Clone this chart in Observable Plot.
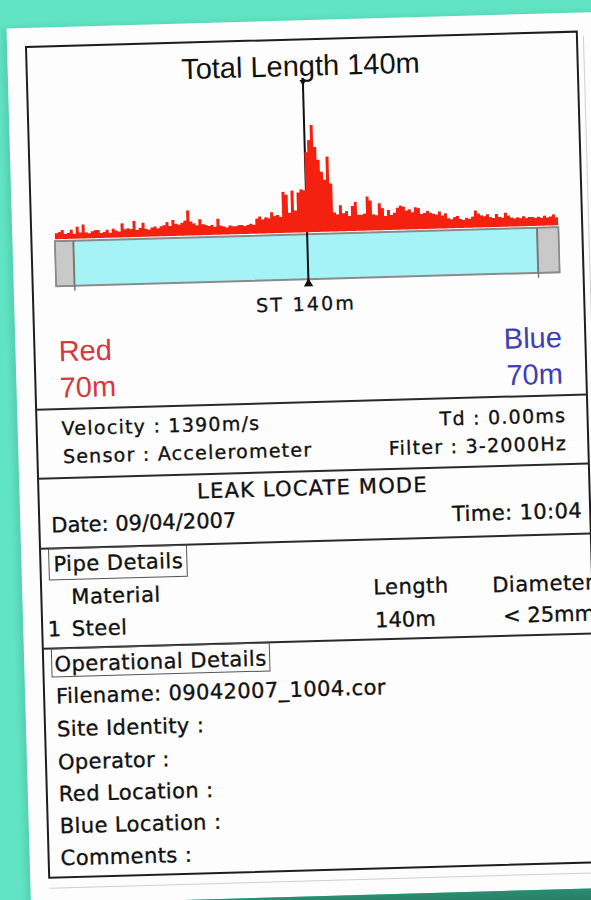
<!DOCTYPE html>
<html><head><meta charset="utf-8">
<script src="https://cdn.jsdelivr.net/npm/d3@7"></script>
<script src="https://cdn.jsdelivr.net/npm/@observablehq/plot@0.6"></script>
<style>
html,body{margin:0;padding:0;width:591px;height:900px;overflow:hidden;background:#60e4c4;}
#stage{position:absolute;left:26px;top:46.7px;width:551px;height:831px;transform:rotate(-1.6deg);transform-origin:0 0;}
#paper{position:absolute;left:-19px;top:-19px;width:720px;height:876px;background:#fdfdfd;box-shadow:-4px 0 6px rgba(0,0,0,0.10);}
#shadow{position:absolute;left:-19px;top:857px;width:720px;height:40px;background:linear-gradient(#2b8d70,#175a46);}
#frame{position:absolute;left:-1px;top:-1px;width:553px;height:833px;box-sizing:border-box;border:2px solid #1e1e1e;}
.hr{position:absolute;left:0;width:551px;height:0;border-top:2px solid #2a2a2a;}
.box{position:absolute;box-sizing:border-box;border:1.5px solid #555;}
.faint{position:absolute;background:#d0d0d0;}
.t{position:absolute;white-space:nowrap;line-height:1;color:#111;font-family:"DejaVu Sans";-webkit-text-stroke:0.35px #111;}
#chart{position:absolute;left:0;top:0;}
</style></head>
<body>
<div id="stage">
  <div id="paper"></div>
  <div id="shadow"></div>
  <div class="faint" style="left:557px;top:4px;width:1px;height:840px"></div>
  <div class="faint" style="left:0;top:841px;width:600px;height:1px"></div>
  <div id="frame"></div>
  <div id="chart"></div>
</div>
<script>
// ---- data ----
const totalLength = 140;            // m
const markerPos = 70;               // m (ST position)
const redDist = 70, blueDist = 70;  // m
const corr = [6,7,9,5,6,9,5,12,6,14,
 6,5,7,8,8,5,6,8,5,9,
 7,6,14,8,9,8,16,7,9,14,
 8,7,9,10,8,10,11,14,10,16,
 12,11,13,15,25,14,12,10,16,11,
 10,9,10,8,16,9,8,7,9,8,
 8,9,9,8,9,10,9,15,17,14,
 16,15,21,17,18,16,41,38,20,42,
 22,40,43,42,80,92,107,85,72,60,
 52,75,48,19,17,26,18,20,15,25,
 29,16,16,17,34,30,16,15,27,22,
 14,20,15,17,22,24,23,19,20,17,
 22,21,15,16,18,16,15,14,17,13,
 15,10,9,11,12,9,8,10,9,11,
 17,14,12,11,13,10,9,13,10,9,
 14,11,9,8,9,8,10,8,9,9,
 8,9,8,10,8,9,11,8];
const caps = [[0, 5], [134, 140]];
const readingsLeft = ["Velocity : 1390m/s", "Sensor : Accelerometer"];
const readingsRight = ["Td : 0.00ms", "Filter : 3-2000Hz"];
const modeText = "LEAK LOCATE MODE";
const dateText = "Date: 09/04/2007", timeText = "Time: 10:04";
const pipeHeader = ["Material", "Length", "Diameter"];
const pipeRow = ["1", "Steel", "140m", "< 25mm"];
const opFields = ["Filename: 09042007_1004.cor", "Site Identity :", "Operator :", "Red Location :", "Blue Location :", "Comments :"];

// ---- chart ----
const n = corr.length;
const series = corr.map((h, i) => ({x: i * totalLength / n, h}));
series.push({x: totalLength, h: corr[n - 1]});
const RED = "#f42010", CYAN = "#a6f3f7";
const capRects = caps.map(([a, b]) => ({a, b}));
const chart = Plot.plot({
  width: 551, height: 363,
  marginLeft: 23.6, marginRight: 24, marginTop: 83, marginBottom: 170,
  x: {domain: [0, totalLength], axis: null},
  y: {domain: [0, 110], axis: null},
  style: {background: "transparent", overflow: "visible"},
  marks: [
    Plot.rect([{a: 0, b: totalLength}], {x1: "a", x2: "b", y1: -2, y2: -47, fill: CYAN, stroke: "#8a8a8a", strokeWidth: 2}),
    Plot.rect(capRects, {x1: "a", x2: "b", y1: -3, y2: -46, fill: "#c9c9c9"}),
    Plot.rect(capRects, {x1: "a", x2: "b", y1: -2, y2: -47, fill: "none", stroke: "#8a8a8a", strokeWidth: 1.5}),
    Plot.ruleX([caps[0][1], caps[1][0]], {y1: -2, y2: -52, stroke: "#777", strokeWidth: 1.5}),
    Plot.ruleX([markerPos], {y1: 152, y2: -52, stroke: "#111", strokeWidth: 2}),
    Plot.areaY(series, {x: "x", y: "h", curve: "step-after", fill: RED}),
    Plot.dot([markerPos], {x: d => d, y: -51, symbol: "triangle", r: 3.5, fill: "#111"}),
    Plot.dot([markerPos], {x: d => d, y: 151, symbol: "triangle", rotate: 180, r: 2.5, fill: "#111"}),
    Plot.text([`Total Length ${totalLength}m`], {x: markerPos, frameAnchor: "top", dx: -2, dy: -47, lineAnchor: "bottom", fontSize: 29, fontFamily: "Liberation Sans", fill: "#111"}),
    Plot.text([`ST ${totalLength}m`], {x: markerPos, frameAnchor: "bottom", dx: -3, dy: 78, lineAnchor: "bottom", fontSize: 19, fontFamily: "DejaVu Sans", fill: "#111"}),
    Plot.text(["Red", `${redDist}m`], {x: 0, frameAnchor: "bottom", lineAnchor: "bottom", textAnchor: "start", fontSize: 29, fontFamily: "Liberation Sans", fill: "#d9363e"}),
    Plot.text(["Blue", `${blueDist}m`], {x: totalLength, frameAnchor: "bottom", lineAnchor: "bottom", textAnchor: "end", fontSize: 29, fontFamily: "Liberation Sans", fill: "#3d3db5"})
  ]
});
document.getElementById("chart").appendChild(chart);
// vertical offsets of the Red / Blue label lines (baseline below pipe)
d3.select(chart).selectAll("text").each(function() {
  const t = this.textContent;
  if (t === "Red" || t === "Blue") this.setAttribute("dy", 121.5);
  if (t === `${redDist}m` || t === `${blueDist}m`) this.setAttribute("dy", 158);
  if (t.startsWith("ST")) { this.style.letterSpacing = "2.2px"; this.style.stroke = "#111"; this.style.strokeWidth = "0.3px"; }
});

// ---- details ----
const stage = document.getElementById("stage");
function hr(v) { const d = document.createElement("div"); d.className = "hr"; d.style.top = (v - 1) + "px"; stage.appendChild(d); }
function box(u1, v1, u2, v2) { const d = document.createElement("div"); d.className = "box";
  Object.assign(d.style, {left: u1 + "px", top: v1 + "px", width: (u2 - u1) + "px", height: (v2 - v1) + "px"}); stage.appendChild(d); }
function put(txt, u, v, o = {}) {
  const fs = o.fs || 21, ls = o.ls || 0, a = o.anchor || "start";
  const d = document.createElement("div"); d.className = "t"; d.textContent = txt;
  d.style.fontSize = fs + "px"; d.style.letterSpacing = ls + "px";
  d.style.top = (v - 0.846 * fs) + "px";
  if (a === "start") d.style.left = u + "px";
  else if (a === "end") d.style.right = (551 - u - ls) + "px";
  else { d.style.left = u + "px"; d.style.transform = "translateX(-50%)"; }
  stage.appendChild(d);
}
hr(363); hr(432); hr(502); hr(602);
box(8, 502, 147, 534);
box(8, 602, 227, 631);
put(readingsLeft[0], 25, 389, {fs: 19, ls: 1.25});
put(readingsLeft[1], 25.5, 417.5, {fs: 19, ls: 1.25});
put(readingsRight[0], 528.5, 390, {fs: 19, ls: 1.25, anchor: "end"});
put(readingsRight[1], 528.5, 418.5, {fs: 19, ls: 1.25, anchor: "end"});
put(modeText, 274, 456.5, {fs: 21, ls: 1.2, anchor: "middle"});
put(dateText, 12, 486.5, {fs: 21});
put(timeText, 542.5, 487, {fs: 21, ls: 0.4, anchor: "end"});
put("Pipe Details", 13, 526, {fs: 21, ls: 0.5});
put(pipeHeader[0], 30, 558.6, {fs: 21, ls: 0.5});
put(pipeHeader[1], 332, 558, {fs: 21, ls: 0.5});
put(pipeHeader[2], 451, 559, {fs: 21, ls: 0.5});
put(pipeRow[0], 5.5, 590.6, {fs: 21});
put(pipeRow[1], 29.5, 591, {fs: 21, ls: 0.5});
put(pipeRow[2], 333, 590.3, {fs: 21});
put(pipeRow[3], 461, 589.5, {fs: 21});
put("Operational Details", 11.3, 625.8, {fs: 21, ls: 0.5});
const opV = [658, 690.8, 723.4, 755.5, 787.6, 819.5];
opFields.forEach((f, i) => put(f, 12, opV[i], {fs: 21, ls: 0.4}));
</script>
</body></html>
